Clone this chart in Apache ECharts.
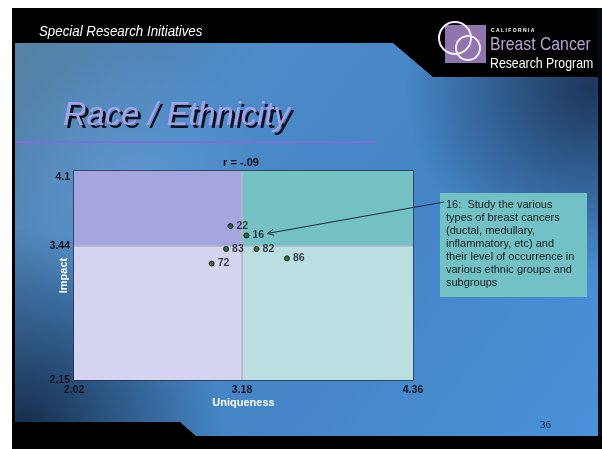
<!DOCTYPE html>
<html><head><meta charset="utf-8">
<script src="https://cdn.jsdelivr.net/npm/echarts@6/dist/echarts.min.js"></script>
<style>html,body{margin:0;padding:0;background:#fff}#c{width:602px;height:449px}</style>
</head><body><div id="c"></div>
<script>
// ---- data ----
const pointIds   = ['22', '16', '83', '82', '86', '72'];
const uniqueness = [3.10, 3.21, 3.07, 3.28, 3.49, 2.97];
const impact     = [3.63, 3.54, 3.41, 3.41, 3.32, 3.27];
const xTicks = [2.02, 3.18, 4.36];
const yTicks = [2.15, 3.44, 4.1];
const xMid = 3.18, yMid = 3.44;
const correlationText = 'r = -.09';
const noteLines = [
  '16:  Study the various',
  'types of breast cancers',
  '(ductal, medullary,',
  'inflammatory, etc) and',
  'their level of occurrence in',
  'various ethnic groups and',
  'subgroups'
];
const notePointIndex = 1;

// ---- axis extents ----
const xMin = xTicks[0], xMax = xTicks[2];
const yMin = yTicks[0], yMax = 4.16;

const chart = echarts.init(document.getElementById('c'));
const G = echarts.graphic;
const SANS = '"Liberation Sans", Arial';

const bg = [
  { type: 'rect', z: -20, shape: { x: 12, y: 8, width: 590, height: 441 },
    style: { fill: new G.LinearGradient(0, 0, 1, 1, [
      { offset: 0, color: '#56809f' }, { offset: 0.3, color: '#4d8bc9' },
      { offset: 0.6, color: '#4485c6' }, { offset: 1, color: '#4a92da' }]) } },
  { type: 'rect', z: -19, shape: { x: 12, y: 8, width: 590, height: 441 },
    style: { fill: new G.RadialGradient(0.02, 0.95, 0.45, [
      { offset: 0, color: 'rgba(15,35,62,0.9)' }, { offset: 1, color: 'rgba(15,35,62,0)' }]) } },
  { type: 'rect', z: -19, shape: { x: 12, y: 8, width: 590, height: 441 },
    style: { fill: new G.RadialGradient(0.98, 0.18, 0.42, [
      { offset: 0, color: 'rgba(22,40,70,0.85)' }, { offset: 1, color: 'rgba(22,40,70,0)' }]) } },
  { type: 'rect', z: -19, shape: { x: 12, y: 8, width: 590, height: 441 },
    style: { fill: new G.RadialGradient(0.2, 0.4, 0.3, [
      { offset: 0, color: 'rgba(120,170,220,0.35)' }, { offset: 1, color: 'rgba(120,170,220,0)' }]) } },
  // black frame pieces
  { type: 'polygon', z: -18, shape: { points: [[12,8],[602,8],[602,77],[433,77],[393,43],[12,43]] }, style: { fill: '#000' } },
  { type: 'rect', z: -18, shape: { x: 12, y: 8, width: 3, height: 441 }, style: { fill: '#000' } },
  { type: 'rect', z: -18, shape: { x: 598, y: 8, width: 4, height: 441 }, style: { fill: '#050a14' } },
  { type: 'polygon', z: -18, shape: { points: [[12,422],[180,422],[196,436],[602,436],[602,449],[12,449]] }, style: { fill: '#000' } },
  // header text
  { type: 'text', z: 10, x: 39, y: 32, scaleX: 0.95, style: { text: 'Special Research Initiatives', fill: '#ffffff',
      font: 'italic 14px ' + SANS, verticalAlign: 'middle' } },
  // title shadow + title
  { type: 'text', z: 10, x: 66, y: 119, scaleX: 0.96, style: { text: 'Race / Ethnicity', fill: '#101018',
      font: 'italic 34px ' + SANS, verticalAlign: 'middle' } },
  { type: 'text', z: 11, x: 63, y: 116, scaleX: 0.96, style: { text: 'Race / Ethnicity', fill: '#a3a3ea',
      font: 'italic 34px ' + SANS, verticalAlign: 'middle' } },
  { type: 'rect', z: 10, shape: { x: 15, y: 141, width: 362, height: 2 }, style: { fill: '#7c70d6' } },
  // logo
  { type: 'rect', z: 10, shape: { x: 445, y: 25, width: 41, height: 38 }, style: { fill: '#8f74ae' } },
  { type: 'circle', z: 11, shape: { cx: 455, cy: 38, r: 16 }, style: { fill: null, stroke: '#f2ecf6', lineWidth: 2 } },
  { type: 'circle', z: 11, shape: { cx: 468, cy: 48, r: 12 }, style: { fill: null, stroke: '#f2ecf6', lineWidth: 2 } },
  { type: 'text', z: 11, x: 491, y: 31, style: { text: 'C A L I F O R N I A', fill: '#ffffff',
      font: 'bold 5px ' + SANS, verticalAlign: 'middle' } },
  { type: 'text', z: 11, x: 490, y: 45, scaleX: 0.83, style: { text: 'Breast Cancer', fill: '#b9a3d6',
      font: '19px ' + SANS, verticalAlign: 'middle' } },
  { type: 'text', z: 11, x: 490, y: 64, scaleX: 0.82, style: { text: 'Research Program', fill: '#ffffff',
      font: '15px ' + SANS, verticalAlign: 'middle' } },
  // page number
  { type: 'text', z: 10, x: 540, y: 425, style: { text: '36', fill: '#1c2434',
      font: '11px "Liberation Serif", "Times New Roman"', verticalAlign: 'middle' } },
  // r label
  { type: 'text', z: 10, x: 241, y: 163, style: { text: correlationText, fill: '#101010',
      font: 'bold 11px ' + SANS, align: 'center', verticalAlign: 'middle' } },
  // note box
  { type: 'rect', z: 20, shape: { x: 440, y: 193, width: 147, height: 104 }, style: { fill: '#71c1c5' } },
  { type: 'text', z: 21, x: 446, y: 198, style: { text: noteLines.join('\n'), fill: '#1a1a1a',
      font: '11px ' + SANS, lineHeight: 13, verticalAlign: 'top' } }
];

const labelFont = { fontFamily: SANS, fontWeight: 'bold', fontSize: 10.5, color: '#151520' };
const nameFont = { color: '#ffffff', fontWeight: 'bold', fontSize: 11, fontFamily: SANS };

chart.setOption({
  animation: false,
  grid: { left: 74, top: 171, width: 339, height: 209, show: true, borderColor: '#2e2e3c', borderWidth: 1.5, backgroundColor: 'transparent' },
  xAxis: {
    type: 'value', min: xMin, max: xMax,
    name: 'Uniqueness', nameLocation: 'middle', nameGap: 17, nameMoveOverlap: false,
    nameTextStyle: nameFont,
    axisLine: { show: false }, axisTick: { show: false }, splitLine: { show: false },
    axisLabel: Object.assign({ customValues: xTicks, margin: 5, formatter: v => String(v) }, labelFont)
  },
  yAxis: {
    type: 'value', min: yMin, max: yMax,
    name: 'Impact', nameLocation: 'middle', nameGap: 5, nameRotate: 90, nameMoveOverlap: false,
    nameTextStyle: nameFont,
    axisLine: { show: false }, axisTick: { show: false }, splitLine: { show: false },
    axisLabel: Object.assign({ customValues: yTicks, margin: 4, formatter: v => String(v) }, labelFont)
  },
  series: [{
    type: 'scatter',
    symbolSize: 5,
    itemStyle: { color: '#0e5a12', borderColor: '#000', borderWidth: 1 },
    label: { show: true, position: 'right', distance: 3, formatter: p => p.name,
      fontFamily: SANS, fontWeight: 'bold', fontSize: 10.5, color: '#151520' },
    data: pointIds.map((id, i) => ({ name: id, value: [uniqueness[i], impact[i]] })),
    markArea: {
      silent: true, z: 0.5,
      data: [
        [{ xAxis: xMin, yAxis: yMid, itemStyle: { color: '#a5a5e0' } }, { xAxis: xMid, yAxis: yMax }],
        [{ xAxis: xMid, yAxis: yMid, itemStyle: { color: '#74c2c4' } }, { xAxis: xMax, yAxis: yMax }],
        [{ xAxis: xMin, yAxis: yMin, itemStyle: { color: '#d4d4f1' } }, { xAxis: xMid, yAxis: yMid }],
        [{ xAxis: xMid, yAxis: yMin, itemStyle: { color: '#bbdfe1' } }, { xAxis: xMax, yAxis: yMid }]
      ]
    },
    markLine: {
      silent: true, z: 1, symbol: 'none', label: { show: false },
      lineStyle: { color: '#b2b4c8', width: 1.5, type: 'solid' },
      data: [
        [{ coord: [xMid, yMin] }, { coord: [xMid, yMax] }],
        [{ coord: [xMin, yMid] }, { coord: [xMax, yMid] }]
      ]
    }
  }]
});

// arrow from note box to point 16
const p = chart.convertToPixel({ seriesIndex: 0 }, [uniqueness[notePointIndex], impact[notePointIndex]]);
const tip = [p[0] + 21, p[1] - 2];
const start = [444, 202];
const ang = Math.atan2(start[1] - tip[1], start[0] - tip[0]);
const hl = 7, hw = 0.45;
const h1 = [tip[0] + hl * Math.cos(ang + hw), tip[1] + hl * Math.sin(ang + hw)];
const h2 = [tip[0] + hl * Math.cos(ang - hw), tip[1] + hl * Math.sin(ang - hw)];
bg.push({ type: 'line', z: 30, shape: { x1: start[0], y1: start[1], x2: tip[0], y2: tip[1] }, style: { stroke: '#1c2a3a', lineWidth: 1 } });
bg.push({ type: 'polyline', z: 30, shape: { points: [h1, tip, h2] }, style: { stroke: '#1c2a3a', lineWidth: 1, fill: null } });

chart.setOption({ graphic: { elements: bg } });
</script>
</body></html>
